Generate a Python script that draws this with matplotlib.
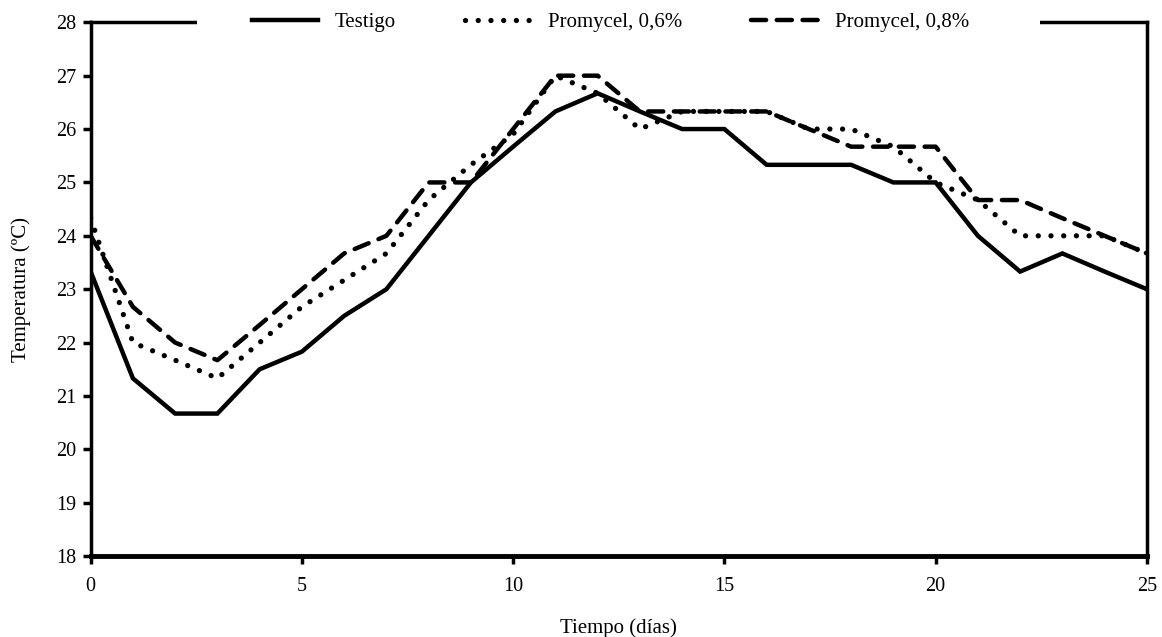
import numpy as np
import matplotlib
matplotlib.use('Agg')
import matplotlib.pyplot as plt
import matplotlib.patches as mpatches

plt.rcParams['font.family'] = 'Liberation Serif'

# days of the trial
dias = list(range(26))

# temperature per treatment (degrees C)
testigo = [23.33, 21.33, 20.67, 20.67, 21.5, 21.83, 22.5, 23.0, 24.0, 25.0,
           25.67, 26.33, 26.67, 26.33, 26.0, 26.0, 25.33, 25.33, 25.33, 25.0,
           25.0, 24.0, 23.33, 23.67, 23.33, 23.0]
prom_06 = [24.33, 22.0, 21.67, 21.33, 22.0, 22.67, 23.17, 23.67, 24.67, 25.33,
           25.9, 27.0, 26.67, 26.0, 26.33, 26.33, 26.33, 26.0, 26.0, 25.67,
           25.0, 24.67, 24.0, 24.0, 24.0, 23.67]
prom_08 = [24.0, 22.67, 22.0, 21.67, 22.33, 23.0, 23.67, 24.0, 25.0, 25.0,
           26.0, 27.0, 27.0, 26.33, 26.33, 26.33, 26.33, 26.0, 25.67, 25.67,
           25.67, 24.67, 24.67, 24.33, 24.0, 23.67]

etiquetas = ['Testigo', 'Promycel, 0,6%', 'Promycel, 0,8%']
x_ticks = [0, 5, 10, 15, 20, 25]
y_ticks = list(range(18, 29))

fig = plt.figure(figsize=(11.62, 6.37), dpi=100)
ax = fig.add_axes([0.078, 0.127, 0.909, 0.838])

lw = 3.2
ax.plot(dias, testigo, color='black', lw=lw, solid_joinstyle='miter',
        label=etiquetas[0])
# dotted line: round caps on near-zero dashes give the dots
ax.plot(dias, prom_06, color='black', lw=3.8, linestyle=(0, (0.01, 2.4)),
        dash_capstyle='round', label=etiquetas[1])
ax.plot(dias, prom_08, color='black', lw=lw, linestyle=(0, (3.4, 2.4)),
        dash_capstyle='round', label=etiquetas[2])

ax.set_xlim(0, 25)
ax.set_ylim(18, 28)
ax.set_xticks(x_ticks)
ax.set_yticks(y_ticks)
ax.tick_params(axis='both', direction='out', length=6, width=2.5,
               labelsize=14.5, colors='black')
ax.tick_params(axis='x', pad=9)
ax.tick_params(axis='y', pad=4)

for s in ax.spines.values():
    s.set_linewidth(2.5)
ax.spines['bottom'].set_linewidth(3.5)

ax.set_xlabel('Tiempo (días)', fontsize=15, labelpad=16)
ax.set_ylabel('Temperatura (ºC)', fontsize=15, labelpad=18)

leg = ax.legend(loc='center', bbox_to_anchor=(0.492, 1.0), ncol=3,
                fontsize=15, frameon=True, handlelength=3.2,
                handletextpad=0.8, columnspacing=3.3, borderpad=0.3,
                borderaxespad=0, fancybox=False)
leg.get_frame().set_facecolor('white')
leg.get_frame().set_edgecolor('none')
leg.get_frame().set_alpha(1)

# white band behind the legend that blanks the top spine
band = mpatches.Rectangle((0.101, 0.985), 0.798, 0.03, transform=ax.transAxes,
                          facecolor='white', edgecolor='none', zorder=3,
                          clip_on=False)
ax.add_patch(band)

fig.savefig('out.png', dpi=100)
